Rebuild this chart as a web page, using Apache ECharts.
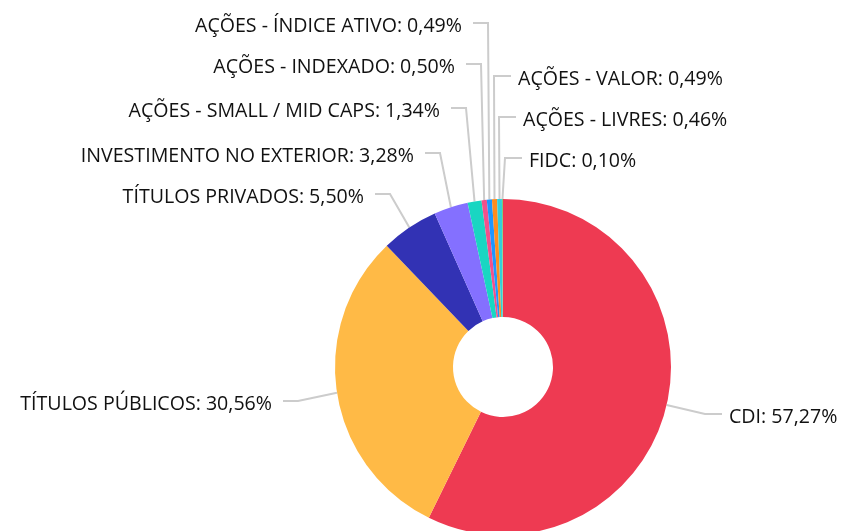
<!DOCTYPE html>
<html>
<head>
<meta charset="utf-8">
<script src="https://cdn.jsdelivr.net/npm/echarts@6/dist/echarts.min.js"></script>
<style>
  html, body { margin: 0; padding: 0; background: #fff; }
  #chart { width: 843px; height: 531px; }
</style>
</head>
<body>
<div id="chart"></div>
<script>
// dados
const categories = [
  'CDI',
  'TÍTULOS PÚBLICOS',
  'TÍTULOS PRIVADOS',
  'INVESTIMENTO NO EXTERIOR',
  'AÇÕES - SMALL / MID CAPS',
  'AÇÕES - INDEXADO',
  'AÇÕES - ÍNDICE ATIVO',
  'AÇÕES - VALOR',
  'AÇÕES - LIVRES',
  'FIDC',
]
const values = [57.27, 30.56, 5.5, 3.28, 1.34, 0.5, 0.49, 0.49, 0.46, 0.1]
const colors = ['#ee3a52', '#ffba46', '#3232b4', '#8470ff', '#19d6c2', '#f2508c', '#1e96ff', '#ff8c1e', '#33cfdc', '#7cc87c']

// posição dos rótulos (cotovelo da linha + lado)
const labelSide = ['right', 'left', 'left', 'left', 'left', 'left', 'left', 'right', 'right', 'right']
const elbowX = [705, 298, 390, 440, 466, 481, 488, 494, 499, 505]
const elbowY = [414, 401, 194, 153, 108, 64, 23, 76, 117, 158]

const chart = echarts.init(document.getElementById('chart'))

chart.setOption({
  backgroundColor: '#fff',
  animation: false,
  series: [
    {
      type: 'pie',
      center: [503, 367],
      radius: [50, 168],
      startAngle: 90,
      clockwise: true,
      avoidLabelOverlap: false,
      itemStyle: { borderWidth: 0 },
      label: {
        show: true,
        formatter: (p) => `${p.name}: ${p.value.toFixed(2).replace('.', ',')}%`,
        color: '#111',
        fontFamily: 'Open Sans',
        fontSize: 19.6,
      },
      labelLine: {
        show: true,
        length: 20,
        length2: 15,
        lineStyle: { color: '#cccccc', width: 2 },
      },
      labelLayout: (params) => {
        const i = params.dataIndex
        const start = params.labelLinePoints[0]
        const ex = elbowX[i]
        const ey = elbowY[i]
        const right = labelSide[i] === 'right'
        const endX = right ? ex + 17 : ex - 15
        return {
          x: right ? endX + 7 : endX - 11,
          y: ey + 3,
          align: right ? 'left' : 'right',
          verticalAlign: 'middle',
          labelLinePoints: [start, [ex, ey], [endX, ey]],
        }
      },
      data: categories.map((name, i) => ({
        name,
        value: values[i],
        itemStyle: { color: colors[i] },
      })),
    },
  ],
})
</script>
</body>
</html>
